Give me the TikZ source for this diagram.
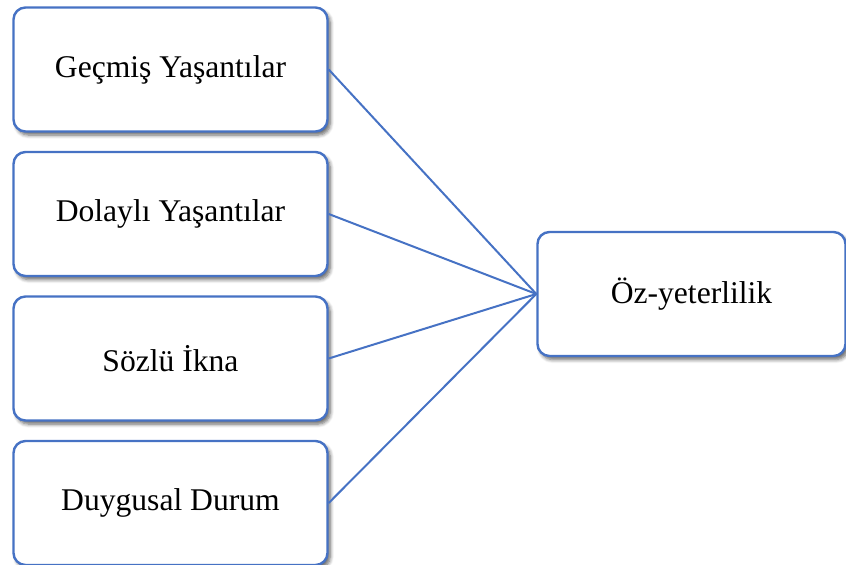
\documentclass[tikz,border=0pt]{standalone}
\usepackage{fontspec}
\setmainfont{Liberation Serif}
\usepackage{tikz}
\usetikzlibrary{positioning,shadows.blur}
\definecolor{kutumavi}{RGB}{70,114,196}
\tikzset{
  kutu/.style={draw=kutumavi, line width=1.2pt, rounded corners=6pt, fill=white,
    minimum width=157pt, minimum height=62pt, inner sep=2pt, align=center,
    font=\fontsize{15.8}{18}\selectfont,
    blur shadow={shadow xshift=1.4pt, shadow yshift=-1.8pt, shadow blur steps=6, shadow opacity=60}},
  baglanti/.style={draw=kutumavi, line width=1pt},
}

\begin{document}
\begin{tikzpicture}[x=0.5pt, y=0.5pt]
  \useasboundingbox (0,0) rectangle (846,565);
  % sol taraftaki kaynaklar
  \foreach \t [count=\i] in {Geçmiş Yaşantılar,Dolaylı Yaşantılar,Sözlü İkna,Duygusal Durum}
    \node[kutu] (k\i) at (170.5,{565-69.5-(\i-1)*144.5}) {\t};
  % sonuç
  \node[kutu, minimum width=154pt] (oz) at (691.5,271) {Öz-yeterlilik};
  \foreach \i in {1,...,4}
    \draw[baglanti] (k\i.east) -- (oz.west);
\end{tikzpicture}
\end{document}
